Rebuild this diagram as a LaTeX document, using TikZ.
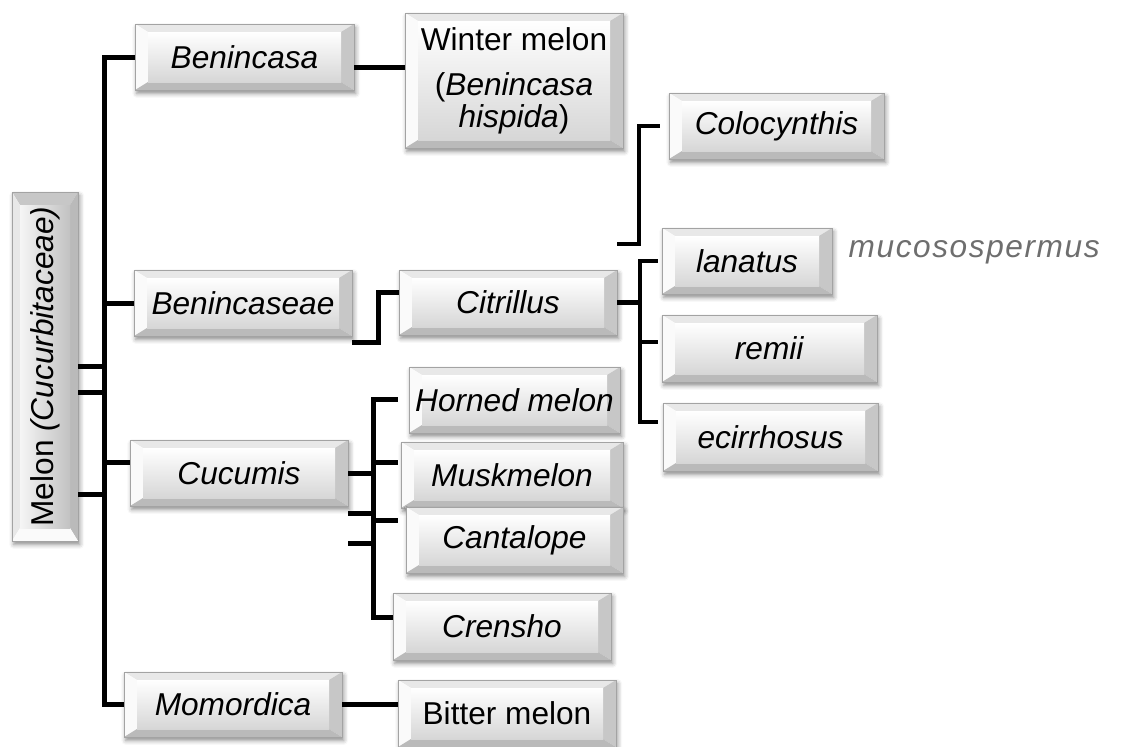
\documentclass[tikz,border=0pt]{standalone}
\usepackage{fontspec}
\setmainfont{Liberation Sans}
\usetikzlibrary{calc,shadows.blur}
\definecolor{edgecol}{HTML}{A3A3A3}
\definecolor{mucogray}{HTML}{6E6E6E}
\def\bvT{black!9}
\def\bvL{black!2}
\def\bvR{black!22}
\def\bvB{black!27}
\tikzset{
  boxtxt/.style={inner sep=0pt, font=\fontsize{18}{21}\selectfont, text=black, align=center},
  thk/.style={line width=0.1cm, black},
  thn/.style={line width=0.065cm, black},
}
% cx cy w h dx dy faceopts
\newcommand{\bvshape}[7]{%
  \begin{scope}[shift={(#1,#2)}]
    \fill[white, blur shadow={shadow xshift=1pt, shadow yshift=-2pt, shadow blur radius=2.5pt, shadow opacity=45}] (-#3/2,-#4/2) rectangle (#3/2,#4/2);
    \fill[fill=\bvT] (-#3/2,-#4/2) -- (#3/2,-#4/2) -- (#3/2-#5,-#4/2+#6) -- (-#3/2+#5,-#4/2+#6) -- cycle;
    \fill[fill=\bvL] (-#3/2,-#4/2) -- (-#3/2+#5,-#4/2+#6) -- (-#3/2+#5,#4/2-#6) -- (-#3/2,#4/2) -- cycle;
    \fill[fill=\bvR] (#3/2,-#4/2) -- (#3/2,#4/2) -- (#3/2-#5,#4/2-#6) -- (#3/2-#5,-#4/2+#6) -- cycle;
    \fill[fill=\bvB] (-#3/2,#4/2) -- (#3/2,#4/2) -- (#3/2-#5,#4/2-#6) -- (-#3/2+#5,#4/2-#6) -- cycle;
    \shade[#7] (-#3/2+#5,-#4/2+#6) rectangle (#3/2-#5,#4/2-#6);
    \draw[edgecol, line width=0.5pt] (-#3/2,-#4/2) rectangle (#3/2,#4/2);
  \end{scope}}
% name cx cy w h text
\newcommand{\gnode}[6]{%
  \bvshape{#2}{#3}{#4}{#5}{13}{8}{top color=white, bottom color=black!16}
  \node[boxtxt, minimum width={#4*0.02cm}, minimum height={#5*0.02cm}] (#1) at (#2,#3) {#6};}

\begin{document}
\begin{tikzpicture}[x=0.02cm, y=-0.02cm]
\useasboundingbox (0,0) rectangle (1133,747);

% root box (rotated look)
{\def\bvT{black!22}\def\bvL{black!9}\def\bvR{black!27}\def\bvB{black!2}
 \bvshape{45}{366.5}{66}{349}{8}{13}{left color=black!4, right color=black!24}}
\node[boxtxt, rotate=90, minimum width={349*0.02cm}, minimum height={66*0.02cm}] (root) at (45,366.5) {Melon \textit{(Cucurbitaceae)}};

% level 1
\gnode{benincasa}{244.5}{57}{219}{66}{\textit{Benincasa}}
\gnode{benincaseae}{243}{303}{218}{66}{\textit{Benincaseae}}
\gnode{cucumis}{239}{473}{218}{66}{\textit{Cucumis}}
\gnode{momordica}{233}{704.5}{218}{65}{\textit{Momordica}}

% level 2
\bvshape{514}{80.5}{218}{135}{13}{8}{top color=white, bottom color=black!16}
\node[boxtxt, font=\fontsize{18}{18}\selectfont, minimum width={218*0.02cm}, minimum height={135*0.02cm}] (winter) at (514,80.5) {Winter melon\\[0.28cm](\textit{Benincasa}\\\textit{hispida})};
\gnode{citrillus}{508}{302.5}{218}{65}{\textit{Citrillus}}
\gnode{horned}{514.5}{400}{211}{66}{\textit{Horned melon}}
\gnode{musk}{512}{475}{222}{66}{\textit{Muskmelon}}
\gnode{canta}{514.5}{540}{217}{66}{\textit{Cantalope}}
\gnode{crensho}{502}{626.5}{218}{67}{\textit{Crensho}}
\gnode{bitter}{507}{713.5}{218}{67}{Bitter melon}

% level 3
\gnode{colocynthis}{776.5}{126}{215}{66}{\textit{Colocynthis}}
\gnode{lanatus}{747}{261}{170}{66}{\textit{lanatus}}
\gnode{remii}{769.5}{348.5}{215}{67}{\textit{remii}}
\gnode{ecirrhosus}{770.5}{437}{215}{68}{\textit{ecirrhosus}}

\node[font=\fontsize{18}{21}\selectfont, text=mucogray, inner sep=0pt] (muco) at (975,252) {\addfontfeature{LetterSpace=5.0}\textit{mucosospermus}};

% ---- connectors ----
\coordinate (trunkB) at (104,703);
\draw[thk] (benincasa.west) -| (trunkB) |- (momordica.west);
\draw[thk] (benincaseae.west) -- (benincaseae.west -| trunkB);
\coordinate (cuY) at ($(cucumis.west)+(0,-11)$);
\draw[thk] (cuY) -- (cuY -| trunkB);
\coordinate (r1) at (0,366);
\coordinate (r2) at (0,392);
\coordinate (r3) at (0,494);
\draw[thk] (root.south |- r1) -- (trunkB |- r1);
\draw[thk] (root.south |- r2) -- (trunkB |- r2);
\draw[thk] (root.south |- r3) -- (trunkB |- r3);

% Benincasa -> Winter melon
\coordinate (bw) at ($(benincasa.east)+(0,10)$);
\draw[thk] (bw) -- (bw -| winter.west);

% Benincaseae -> Citrillus
\coordinate (bc) at ($(benincaseae.south east)+(0,6)$);
\coordinate (ci) at ($(citrillus.west)+(0,-10.5)$);
\draw[thk] (bc) -- ++(26,0) |- (ci);

% Citrillus -> species
\coordinate (cv) at (640,302);
\coordinate (rmY) at ($(remii.west)+(-4,-6.5)$);
\coordinate (ecY) at ($(ecirrhosus.west)+(-5,-15)$);
\draw[thk] (citrillus.east) -- (citrillus.east -| cv);
\draw[thn] ($(lanatus.west)+(-4,0)$) -| (cv |- ecY) -- (ecY);
\draw[thn] (rmY) -- (rmY -| cv);

% Colocynthis bracket
\coordinate (cb) at (639,244);
\draw[thn] (citrillus.east |- cb) -- (cb) |- ($(colocynthis.west)+(-9,0)$);

% Cucumis -> varieties
\coordinate (cuv) at (373,399);
\coordinate (crY) at ($(crensho.west)+(0,-9.5)$);
\coordinate (mkY) at ($(musk.west)+(-3,-13)$);
\coordinate (caY) at ($(canta.west)+(-8,-20)$);
\draw[thk] ($(horned.west)+(-11,-1)$) -| (cuv |- crY) -- (crY);
\draw[thk] (mkY) -- (mkY -| cuv);
\draw[thk] (caY) -- (caY -| cuv);
\coordinate (cu1) at ($(cucumis.east)+(0,40)$);
\coordinate (cu2) at ($(cucumis.east)+(0,70)$);
\draw[thk] (cucumis.east) -- (cucumis.east -| cuv);
\draw[thk] (cu1) -- (cu1 -| cuv);
\draw[thk] (cu2) -- (cu2 -| cuv);

% Momordica -> Bitter melon
\draw[thk] (momordica.east) -- (momordica.east -| bitter.west);
\end{tikzpicture}
\end{document}
